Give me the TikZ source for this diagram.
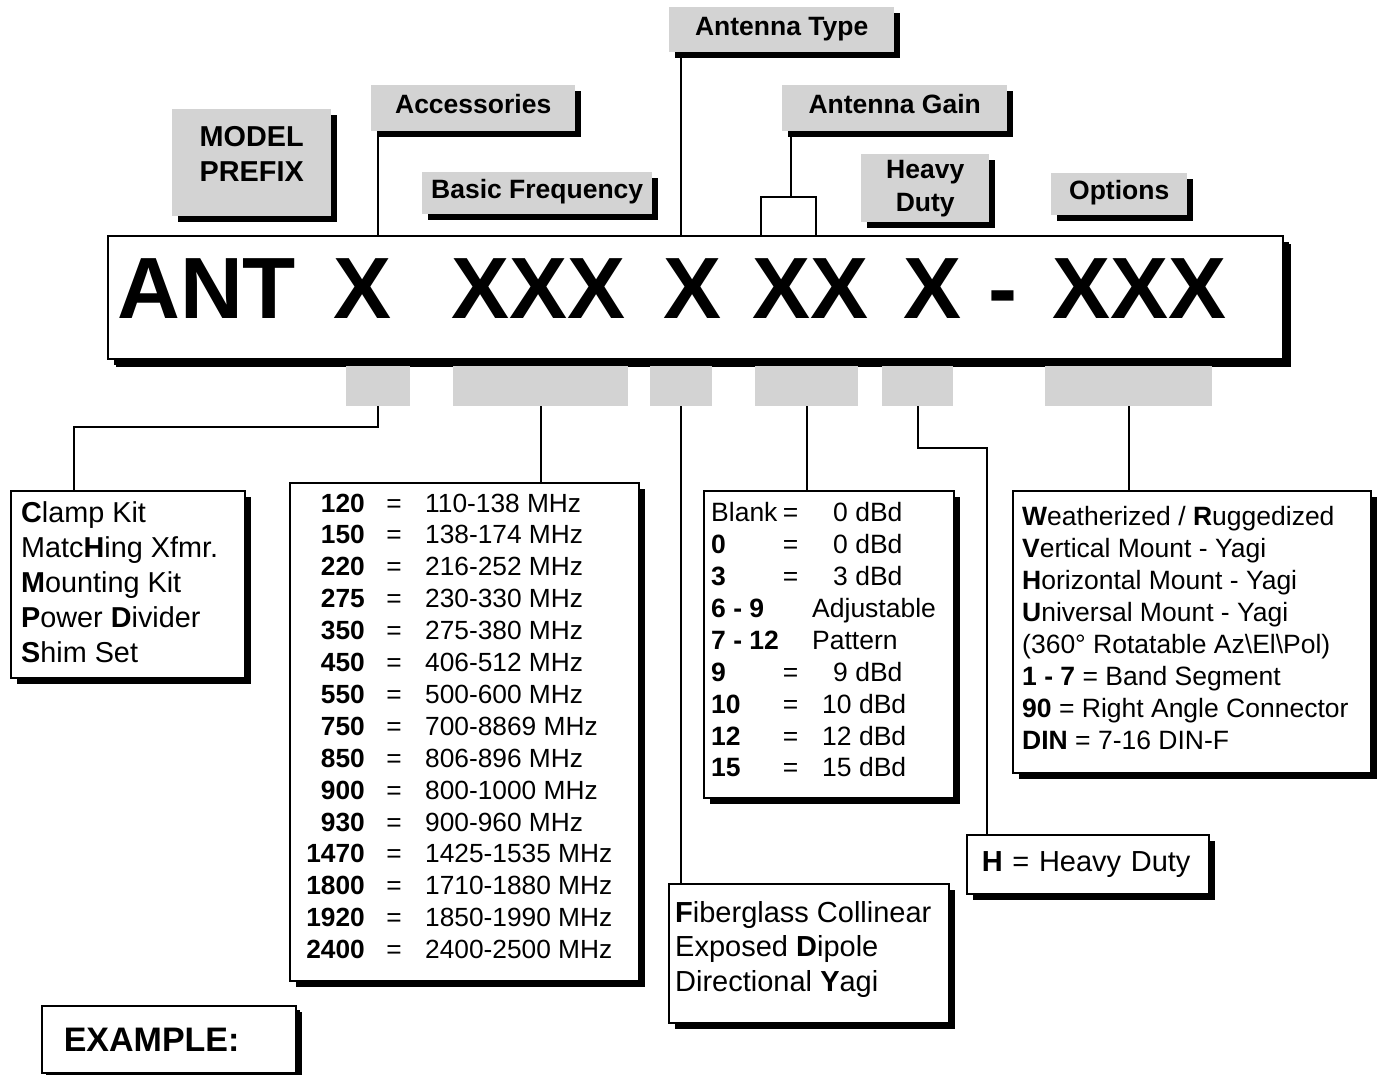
\documentclass[tikz,border=0pt]{standalone}
\usepackage{fontspec}
\setmainfont{Liberation Sans}
\usetikzlibrary{shadows}
\definecolor{tabgray}{RGB}{211,211,211}

\tikzset{
  boxshadow/.style={drop shadow={shadow xshift=#1, shadow yshift=-#1, fill=black, opacity=1}},
  boxshadow/.default=6pt,
  tag/.style={fill=tabgray, boxshadow, anchor=north west, inner sep=0pt, align=center,
    font=\fontsize{26.5}{33}\selectfont\bfseries, text height=20pt, text depth=9pt},
  panel/.style={draw, line width=1.6pt, fill=white, boxshadow, anchor=north west, inner sep=0pt},
  stub/.style={fill=tabgray, anchor=north west, inner sep=0pt, minimum height=40pt},
  wire/.style={line width=1.6pt},
  entry/.style={inner sep=0pt, anchor=base west, font=\fontsize{26.5}{32}\selectfont}
}

\begin{document}
\begin{tikzpicture}[x=1pt, y=-1pt]
  \useasboundingbox (0,0) rectangle (1384,1074);

  \node[tag, minimum width=159pt, minimum height=107pt, font=\fontsize{28.8}{35}\selectfont\bfseries,
    text height=55.6pt, text depth=18pt] (prefix) at (172,109) {MODEL\\PREFIX};
  \node[tag, minimum width=204pt, minimum height=46pt] (acctag) at (371,85) {Accessories};
  \node[tag, minimum width=230pt, minimum height=42pt] (freqtag) at (422,172) {Basic Frequency};
  \node[tag, minimum width=225pt, minimum height=45pt] (typetag) at (669,7) {Antenna Type};
  \node[tag, minimum width=225pt, minimum height=46pt] (gaintag) at (782,85) {Antenna Gain};
  \node[tag, minimum width=128pt, minimum height=68pt, text height=, text depth=] (dutytag) at (861,154) {Heavy\\Duty};
  \node[tag, minimum width=136pt, minimum height=42pt] (opttag) at (1051,173) {Options};

  \node[panel, boxshadow=8pt, minimum width=1175pt, minimum height=123pt] (code) at (107,235) {};
  \foreach \grp/\gx [count=\i] in {ANT/117, X/333, XXX/451, X/663, XX/752, X/903, -/988, XXX/1052}
    \node[inner sep=0pt, anchor=base west, font=\fontsize{87}{87}\selectfont\bfseries] (part\i) at (\gx,318) {\grp};

  \foreach \sx/\sw [count=\i] in {346/64, 453/175, 650/62, 755/103, 882/71, 1045/167}
    \node[stub, minimum width=\sw*1pt] (t\i) at (\sx,366) {};

  \node[panel, minimum width=234pt, minimum height=187pt] (acclist) at (10,490) {};
  \node[panel, minimum width=349pt, minimum height=498pt] (freqlist) at (289,482) {};
  \node[panel, minimum width=250pt, minimum height=307pt] (gainlist) at (703,490) {};
  \node[panel, minimum width=358pt, minimum height=282pt] (optlist) at (1012,490) {};
  \node[panel, minimum width=280pt, minimum height=139pt] (typelist) at (668,883) {};
  \node[panel, minimum width=242pt, minimum height=59pt, text width=212pt, inner xsep=15pt, align=left,
    font=\fontsize{29}{35}\selectfont] (dutylist) at (966,834) {\textbf{H} = Heavy Duty};
  \node[panel, boxshadow=4pt, minimum width=254pt, minimum height=67pt, text width=210pt, inner xsep=22pt, align=left,
    font=\fontsize{34}{40}\selectfont\bfseries] (example) at (41,1005) {EXAMPLE:};

  % list entries
  \foreach \txt [count=\i] in {{\textbf{C}lamp Kit}, {Matc\textbf{H}ing Xfmr.}, {\textbf{M}ounting Kit},
      {\textbf{P}ower \textbf{D}ivider}, {\textbf{S}him Set}}
    \node[entry, font=\fontsize{28.8}{35}\selectfont] (acc\i) at (21,{522+35*(\i-1)}) {\txt};

  \foreach \fc/\fr [count=\i] in {120/110-138, 150/138-174, 220/216-252, 275/230-330, 350/275-380,
      450/406-512, 550/500-600, 750/700-8869, 850/806-896, 900/800-1000, 930/900-960,
      1470/1425-1535, 1800/1710-1880, 1920/1850-1990, 2400/2400-2500} {
    \node[entry, anchor=base east, font=\fontsize{26.3}{32}\selectfont\bfseries] (fc\i) at (365,{512+31.9*(\i-1)}) {\fc};
    \node[entry, anchor=base, font=\fontsize{26.3}{32}\selectfont] (fe\i) at (394,{512+31.9*(\i-1)}) {=};
    \node[entry, font=\fontsize{26.3}{32}\selectfont] (fr\i) at (425,{512+31.9*(\i-1)}) {\fr~MHz};
  }

  \foreach \gl/\gv/\vx/\r in {Blank/{0 dBd}/833/0, \textbf{0}/{0 dBd}/833/1, \textbf{3}/{3 dBd}/833/2,
      \textbf{9}/{9 dBd}/833/5, \textbf{10}/{10 dBd}/822/6, \textbf{12}/{12 dBd}/822/7, \textbf{15}/{15 dBd}/822/8} {
    \node[entry] (gl\r) at (711,{521.7+31.9*\r}) {\gl};
    \node[entry, anchor=base] (ge\r) at (790.7,{521.7+31.9*\r}) {=};
    \node[entry] (gv\r) at (\vx,{521.7+31.9*\r}) {\gv};
  }
  \foreach \gl/\gv/\r in {{6 - 9}/Adjustable/3, {7 - 12}/Pattern/4} {
    \node[entry, font=\fontsize{26.5}{32}\selectfont\bfseries] (gl\r) at (711,{521.7+31.9*\r}) {\gl};
    \node[entry] (gv\r) at (812,{521.7+31.9*\r}) {\gv};
  }

  \foreach \txt [count=\i] in {{\textbf{W}eatherized / \textbf{R}uggedized}, {\textbf{V}ertical Mount - Yagi},
      {\textbf{H}orizontal Mount - Yagi}, {\textbf{U}niversal Mount - Yagi},
      {(360° Rotatable Az\textbackslash El\textbackslash Pol)}, {\textbf{1 - 7} = Band Segment},
      {\textbf{90} = Right Angle Connector}, {\textbf{DIN} = 7-16 DIN-F}}
    \node[entry] (opt\i) at (1022,{525+32*(\i-1)}) {\txt};

  \foreach \txt [count=\i] in {{\textbf{F}iberglass Collinear}, {Exposed \textbf{D}ipole}, {Directional \textbf{Y}agi}}
    \node[entry, font=\fontsize{29}{35}\selectfont] (typ\i) at (675,{922+34.5*(\i-1)}) {\txt};

  % connectors
  \coordinate (gbl) at (761,197);
  \coordinate (gbr) at (816,197);
  \coordinate (gfoot) at (791,197);
  \coordinate (accbend) at (74,427);
  \coordinate (dutybend) at (987,448);

  \draw[wire] (acctag.south -| t1) -- (code.north -| t1);
  \draw[wire] (typetag.south -| t3) -- (code.north -| t3);
  \draw[wire] (gaintag.south -| gfoot) -- (gfoot);
  \draw[wire] (code.north -| gbl) -- (gbl) -- (gbr) -- (code.north -| gbr);

  \draw[wire] (t1.south) |- (accbend) -- (acclist.north -| accbend);
  \draw[wire] (t2.south) -- (freqlist.north -| t2.south);
  \draw[wire] (t3.south) -- (typelist.north -| t3.south);
  \draw[wire] (t4.south) -- (gainlist.north -| t4.south);
  \draw[wire] (t5.south) |- (dutybend) -- (dutylist.north -| dutybend);
  \draw[wire] (t6.south) -- (optlist.north -| t6.south);
\end{tikzpicture}
\end{document}
